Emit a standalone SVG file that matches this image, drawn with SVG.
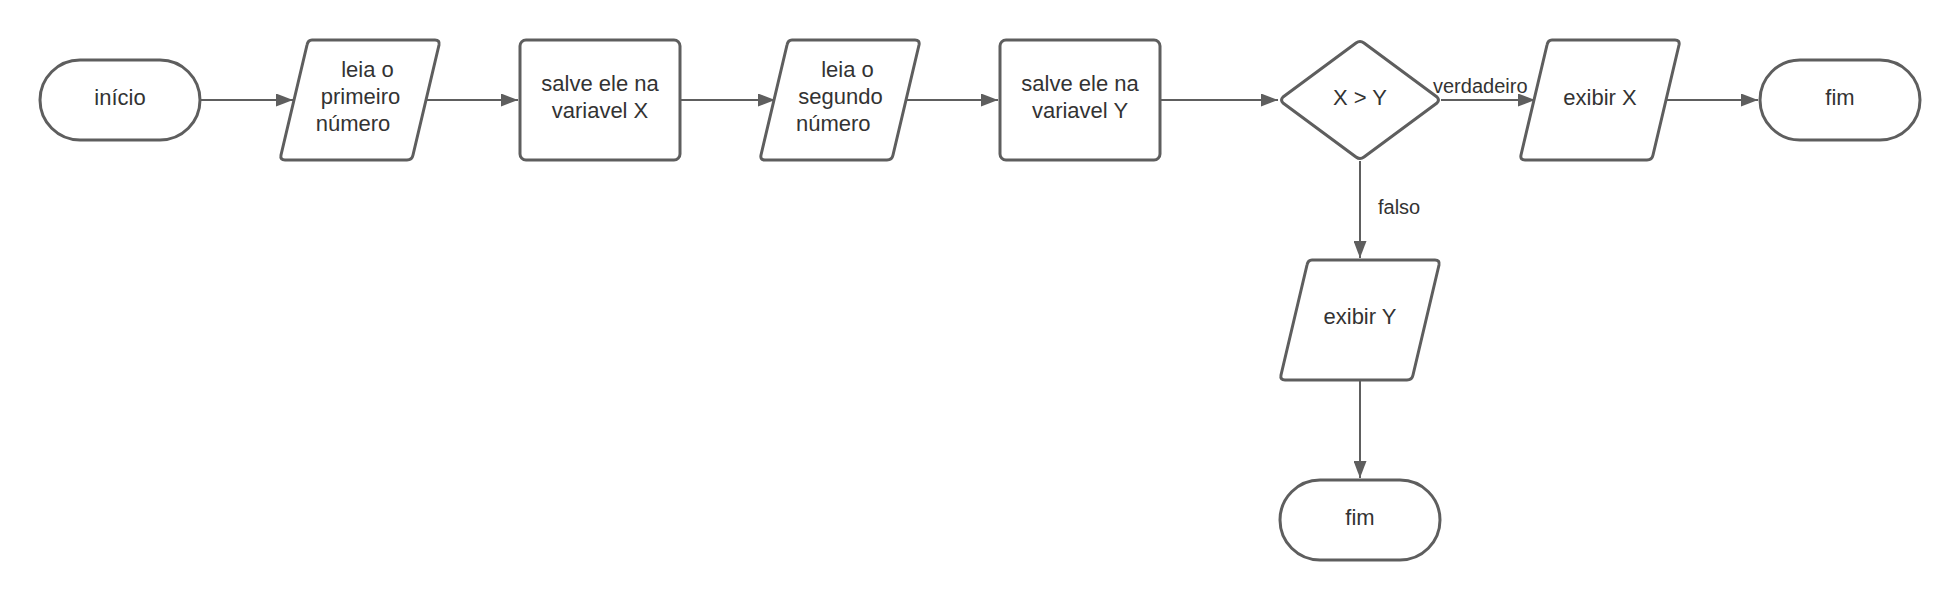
<svg xmlns="http://www.w3.org/2000/svg" width="1960" height="600" viewBox="0 0 1960 600">
<style>
.s{fill:#ffffff;stroke:#5e5e5e;stroke-width:3;stroke-linejoin:round}
.t{font-family:"Liberation Sans",Arial,sans-serif;font-size:22px;fill:#333333;text-anchor:middle}
.l{font-family:"Liberation Sans",Arial,sans-serif;font-size:20px;fill:#333333}
.c{fill:none;stroke:#5e5e5e;stroke-width:2}
</style>
<defs>
<marker id="ah" markerWidth="17" markerHeight="13" refX="17" refY="6.5" orient="auto" markerUnits="userSpaceOnUse">
<path d="M0,0 L17,6.5 L0,13 Z" fill="#5e5e5e"/>
</marker>
</defs>
<rect width="1960" height="600" fill="#ffffff"/>
<g id="connectors">
<line class="c" x1="201" y1="100" x2="293" y2="100" marker-end="url(#ah)"/>
<line class="c" x1="426" y1="100" x2="518" y2="100" marker-end="url(#ah)"/>
<line class="c" x1="681" y1="100" x2="775" y2="100" marker-end="url(#ah)"/>
<line class="c" x1="906" y1="100" x2="998" y2="100" marker-end="url(#ah)"/>
<line class="c" x1="1161" y1="100" x2="1278" y2="100" marker-end="url(#ah)"/>
<line class="c" x1="1441" y1="100" x2="1535" y2="100" marker-end="url(#ah)"/>
<line class="c" x1="1665" y1="100" x2="1758" y2="100" marker-end="url(#ah)"/>
<line class="c" x1="1360" y1="161" x2="1360" y2="258" marker-end="url(#ah)"/>
<line class="c" x1="1360" y1="381" x2="1360" y2="478" marker-end="url(#ah)"/>
<text class="l" x="1433" y="93">verdadeiro</text>
<text class="l" x="1378" y="214">falso</text>
</g>
<g id="inicio">
<rect class="s" x="40" y="60" width="160" height="80" rx="40" ry="40"/>
<text class="t" x="120" y="105">início</text>
</g>
<g id="leia1">
<path class="s" d="M312,40 L435,40 Q440,40 439,45 L413,155 Q412,160 407,160 L285,160 Q280,160 281,155 L307,45 Q308,40 312,40 Z"/>
<text class="t" x="367.5" y="77">leia o</text>
<text class="t" x="360.5" y="104">primeiro</text>
<text class="t" x="353" y="131">número</text>
</g>
<g id="salveX">
<rect class="s" x="520" y="40" width="160" height="120" rx="6" ry="6"/>
<text class="t" x="600" y="91">salve ele na</text>
<text class="t" x="600" y="117.5">variavel X</text>
</g>
<g id="leia2">
<path class="s" d="M792,40 L915,40 Q920,40 919,45 L893,155 Q892,160 887,160 L765,160 Q760,160 761,155 L787,45 Q788,40 792,40 Z"/>
<text class="t" x="847.5" y="77">leia o</text>
<text class="t" x="840.5" y="104">segundo</text>
<text class="t" x="833.3" y="131">número</text>
</g>
<g id="salveY">
<rect class="s" x="1000" y="40" width="160" height="120" rx="6" ry="6"/>
<text class="t" x="1080" y="91">salve ele na</text>
<text class="t" x="1080" y="117.5">variavel Y</text>
</g>
<g id="decisao">
<path class="s" d="M1356,43 Q1360,40 1364,43 L1437,97 Q1440,100 1437,103 L1364,157 Q1360,160 1356,157 L1283,103 Q1280,100 1283,97 Z"/>
<text class="t" x="1360" y="105">X &gt; Y</text>
</g>
<g id="exibirX">
<path class="s" d="M1552,40 L1675,40 Q1680,40 1679,45 L1653,155 Q1652,160 1647,160 L1525,160 Q1520,160 1521,155 L1547,45 Q1548,40 1552,40 Z"/>
<text class="t" x="1600" y="105">exibir X</text>
</g>
<g id="fim1">
<rect class="s" x="1760" y="60" width="160" height="80" rx="40" ry="40"/>
<text class="t" x="1840" y="105">fim</text>
</g>
<g id="exibirY">
<path class="s" d="M1312,260 L1435,260 Q1440,260 1439,265 L1413,375 Q1412,380 1407,380 L1285,380 Q1280,380 1281,375 L1307,265 Q1308,260 1312,260 Z"/>
<text class="t" x="1360" y="324">exibir Y</text>
</g>
<g id="fim2">
<rect class="s" x="1280" y="480" width="160" height="80" rx="40" ry="40"/>
<text class="t" x="1360" y="525">fim</text>
</g>
</svg>
